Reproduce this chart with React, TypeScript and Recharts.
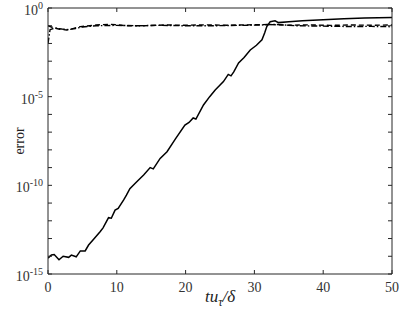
import { Label, Line, LineChart, XAxis, YAxis } from "recharts";

// error vs t u_tau / delta (log scale)
const solidT = [
  0, 0.5, 0.9, 1.6, 2.2, 3, 3.4, 4.1, 4.7, 5.4, 5.9, 6.6, 7.6, 8, 8.8, 9.2, 9.75, 10.2, 11, 11.4,
  11.9, 12.9, 13.9, 14.85, 15.3, 16.3, 17.3, 18.5, 19.9, 20.5, 21.1, 21.5, 22.6, 23.5, 24.3, 25.5,
  26.2, 26.6, 27, 27.7, 28.5, 29.4, 30.3, 31.1, 31.5, 31.8, 32.3, 33, 33.5, 35, 37, 40, 43, 46, 50,
];
const solidErr = [
  7.9e-15, 1.17e-14, 1.26e-14, 6.3e-15, 1e-14, 8.7e-15, 1.17e-14, 9.3e-15, 2.0e-14, 2.0e-14,
  4.3e-14, 8.9e-14, 2.5e-13, 4.0e-13, 1.5e-12, 1.4e-12, 4.0e-12, 5.0e-12, 1.5e-11, 2.8e-11,
  6.5e-11, 1.6e-10, 3.8e-10, 1e-9, 8.5e-10, 3.3e-9, 7.9e-9, 4.0e-8, 2.5e-7, 3.5e-7,
  6.3e-7, 5.5e-7, 3.4e-6, 1e-5, 2.4e-5, 7.1e-5, 1.8e-4, 1.5e-4, 2.5e-4, 7.9e-4,
  1.6e-3, 4.3e-3, 7.9e-3, 1.6e-2, 4.0e-2, 8.9e-2, 0.17, 0.19, 0.15, 0.166, 0.19, 0.22, 0.245, 0.27, 0.295,
];

const dashT = [0, 0.7, 1.7, 2.7, 3.7, 4.7, 7, 9, 11.5, 14, 17, 20, 23, 26, 29, 32, 35, 38, 41, 44, 47, 50];
const dashErr = [
  0.1, 0.079, 0.063, 0.058, 0.071, 0.089, 0.11, 0.12, 0.1, 0.1, 0.11, 0.107, 0.112, 0.107, 0.112,
  0.117, 0.107, 0.112, 0.105, 0.11, 0.107, 0.11,
];

const dotT = [0, 0.3, 1, 2, 3, 4, 5, 7, 10, 13, 16, 20, 24, 28, 31, 33, 36, 40, 44, 47, 50];
const dotErr = [
  0.01, 0.06, 0.075, 0.065, 0.06, 0.07, 0.085, 0.1, 0.105, 0.1, 0.105, 0.1, 0.1, 0.105, 0.11, 0.12,
  0.1, 0.095, 0.09, 0.092, 0.088,
];

const xTicks = [0, 10, 20, 30, 40, 50];
const yTicks = [
  1e-15, 1e-14, 1e-13, 1e-12, 1e-11, 1e-10, 1e-9, 1e-8, 1e-7, 1e-6, 1e-5, 1e-4, 1e-3, 1e-2, 1e-1, 1,
];

const solidData = solidT.map((t, i) => ({ t, v: solidErr[i] }));
const dashData = dashT.map((t, i) => ({ t, v: dashErr[i] }));
const dotData = dotT.map((t, i) => ({ t, v: dotErr[i] }));

const FONT = "Liberation Serif, Times New Roman, Times, serif";
const AX = "#262626";
const TL = 4;
const PLOT_TOP = 8;

const LeftTick = (props: any) => {
  const { x, y, payload } = props;
  const exp = Math.round(Math.log10(payload.value));
  return (
    <g>
      <line x1={x} x2={x + TL} y1={y} y2={y} stroke={AX} />
      {exp % 5 === 0 && (
        <text x={x - 5} y={y + 7} textAnchor="end" style={{ fontFamily: FONT }} fontSize={14} fill="#333">
          <tspan>10</tspan>
          <tspan dy={-6} fontSize={10}>
            {String(exp)}
          </tspan>
        </text>
      )}
    </g>
  );
};

const RightTick = (props: any) => {
  const { x, y } = props;
  return <line x1={x} x2={x - TL} y1={y} y2={y} stroke={AX} />;
};

// bottom ticks also mirror a tick mark on the top frame
const BottomTick = (props: any) => {
  const { x, y, payload } = props;
  return (
    <g>
      <line x1={x} x2={x} y1={y} y2={y - TL} stroke={AX} />
      <line x1={x} x2={x} y1={PLOT_TOP} y2={PLOT_TOP + TL} stroke={AX} />
      <text x={x} y={y + 18} textAnchor="middle" style={{ fontFamily: FONT }} fontSize={14} fill="#333">
        {payload.value}
      </text>
    </g>
  );
};

export default function App() {
  return (
    <div style={{ position: "absolute", left: 0, top: 0, background: "#fff" }}>
      <LineChart width={399} height={313} margin={{ top: 7, right: 6, bottom: 0, left: 0 }}>
        <XAxis
          dataKey="t"
          type="number"
          domain={[0, 50]}
          ticks={xTicks}
          height={39}
          tickSize={0}
          tickMargin={0}
          tickLine={false}
          tick={<BottomTick />}
          axisLine={{ stroke: AX }}
          interval={0}
          allowDataOverflow
        >
          <Label
            content={() => (
              <text x={220} y={302} textAnchor="middle" style={{ fontFamily: FONT }} fontSize={17} fontStyle="italic" fill="#222">
                <tspan>tu</tspan>
                <tspan dy={4} fontSize={12}>τ</tspan>
                <tspan dy={-4}>/δ</tspan>
              </text>
            )}
          />
        </XAxis>
        <XAxis
          xAxisId="top"
          orientation="top"
          dataKey="t"
          type="number"
          domain={[0, 50]}
          ticks={xTicks}
          height={1}
          tick={false}
          tickLine={false}
          axisLine={{ stroke: AX }}
          allowDataOverflow
        />
        <YAxis
          scale="log"
          domain={[1e-15, 1]}
          ticks={yTicks}
          width={48}
          tickSize={0}
          tickMargin={0}
          tickLine={false}
          tick={<LeftTick />}
          axisLine={{ stroke: AX }}
          interval={0}
          allowDataOverflow
        >
          <Label
            content={() => (
              <text
                x={24}
                y={141}
                textAnchor="middle"
                transform="rotate(-90 24 141)"
                style={{ fontFamily: FONT }}
                fontSize={14}
                fill="#222"
              >
                error
              </text>
            )}
          />
        </YAxis>
        <YAxis
          yAxisId="right"
          orientation="right"
          scale="log"
          domain={[1e-15, 1]}
          ticks={yTicks}
          width={1}
          tickSize={0}
          tickMargin={0}
          tickLine={false}
          tick={<RightTick />}
          axisLine={{ stroke: AX }}
          interval={0}
          allowDataOverflow
        />
        <Line data={dotData} dataKey="v" stroke="#000" strokeWidth={1.4} strokeDasharray="6 2 1.5 2" dot={false} isAnimationActive={false} />
        <Line data={dashData} dataKey="v" stroke="#000" strokeWidth={1.4} strokeDasharray="5 3" dot={false} isAnimationActive={false} />
        <Line data={solidData} dataKey="v" stroke="#000" strokeWidth={1.5} dot={false} isAnimationActive={false} />
      </LineChart>
    </div>
  );
}
